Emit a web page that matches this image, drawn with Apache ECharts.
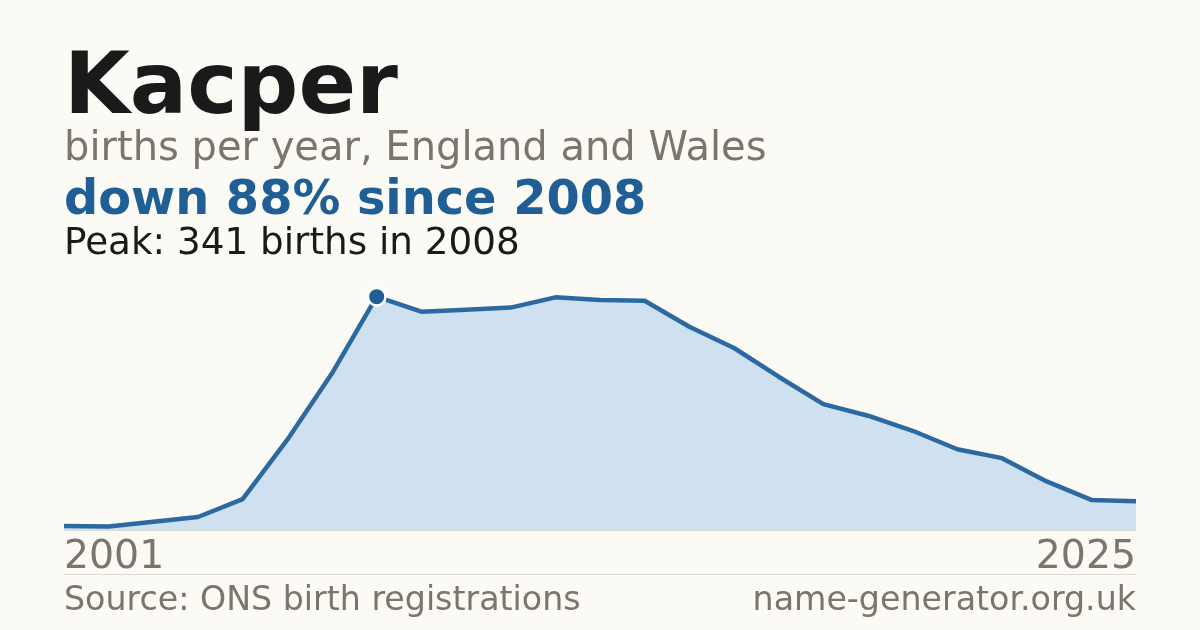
<!DOCTYPE html>
<html>
<head>
<meta charset="utf-8">
<script src="https://cdn.jsdelivr.net/npm/echarts@6/dist/echarts.min.js"></script>
<style>
  html, body { margin: 0; padding: 0; background: #fbfaf5; }
  #chart { width: 1200px; height: 630px; }
</style>
</head>
<body>
<div id="chart"></div>
<script>
var years = ['2001', '2002', '2003', '2004', '2005', '2006', '2007', '2008', '2009', '2010',
  '2011', '2012', '2013', '2014', '2015', '2016', '2017', '2018', '2019', '2020',
  '2021', '2022', '2023', '2024', '2025'];
var births = [6, 5, 12, 19, 45, 132, 229, 341, 319, 322,
  325, 340, 336, 335, 297, 266, 224, 184, 167, 145,
  118, 105, 71, 44, 42];
var peakIndex = 7;

var font = 'DejaVu Sans';
var grey = '#7a756d';
var blue = '#1f5f96';

var chart = echarts.init(document.getElementById('chart'));

chart.setOption({
  backgroundColor: '#fbfaf5',
  animation: false,
  grid: { left: 64, right: 64, top: 285, bottom: 100 },
  xAxis: {
    type: 'category',
    data: years,
    boundaryGap: false,
    axisLine: { show: true, lineStyle: { color: '#dcdad4', width: 1 } },
    axisTick: { show: false },
    axisLabel: {
      interval: (idx) => idx === 0 || idx === years.length - 1,
      alignMinLabel: 'left',
      alignMaxLabel: 'right',
      color: grey,
      fontFamily: font,
      fontSize: 39.4,
      margin: 8
    }
  },
  yAxis: {
    type: 'value',
    min: 0,
    max: v => v.max * 1.05,
    show: false,
    splitLine: { show: false }
  },
  series: [{
    type: 'line',
    data: births.map((v, i) => i === peakIndex ? {
      value: v,
      symbol: 'circle',
      symbolSize: 17.5,
      itemStyle: { color: blue, borderColor: '#ffffff', borderWidth: 2.5 }
    } : v),
    showSymbol: true,
    symbol: 'none',
    lineStyle: { color: '#2c69a0', width: 4.5 },
    areaStyle: { color: '#cfe0f0', opacity: 1 },
    z: 2
  }],
  graphic: [
    { type: 'text', left: 64, top: 48, style: { text: 'Kacper', font: 'bold 85px "' + font + '"', fill: '#1a1a1a' } },
    { type: 'text', left: 64, top: 130, style: { text: 'births per year, England and Wales', font: '40px "' + font + '"', fill: grey } },
    { type: 'text', left: 64, top: 178, style: { text: 'down 88% since 2008', font: 'bold 47.8px "' + font + '"', fill: blue } },
    { type: 'text', left: 64, top: 226, style: { text: 'Peak: 341 births in 2008', font: '37.3px "' + font + '"', fill: '#1a1a1a' } },
    { type: 'line', shape: { x1: 64, y1: 574.5, x2: 1136, y2: 574.5 }, style: { stroke: '#dcdad4', lineWidth: 1 } },
    { type: 'text', left: 64, top: 585, style: { text: 'Source: ONS birth registrations', font: '33.25px "' + font + '"', fill: grey } },
    { type: 'text', right: 64, top: 585, style: { text: 'name-generator.org.uk', font: '33.25px "' + font + '"', fill: grey } }
  ]
});
</script>
</body>
</html>
